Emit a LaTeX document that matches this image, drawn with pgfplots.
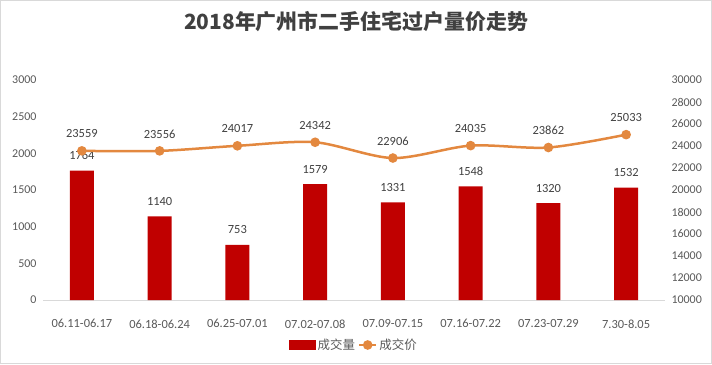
\documentclass[border=0pt]{standalone}
\usepackage{fontspec}
\setmainfont{Carlito}
\newfontfamily\cjk{Noto Sans CJK SC}
\usepackage{pgfplots}
\pgfplotsset{compat=1.18}
\definecolor{barred}{HTML}{C00000}
\definecolor{lineor}{HTML}{E3883F}
\definecolor{txt}{HTML}{404040}
\definecolor{tickc}{HTML}{595959}
\definecolor{axl}{HTML}{D9D9D9}
\pgfkeys{/pgf/number format/1000 sep={}}
\begin{document}
\begin{tikzpicture}[x=1bp,y=1bp]
\draw[axl, line width=1bp] (0.5,0.5) rectangle (711.5,363.5);
\node[font=\cjk\bfseries\fontsize{21}{24}\selectfont, text=txt] at (356,342) {2018年广州市二手住宅过户量价走势};
\begin{axis}[
  at={(43bp,64bp)}, anchor=south west, scale only axis,
  width=622bp, height=220bp,
  xmin=-0.5, xmax=7.5, ymin=0, ymax=3000,
  ytick={0,500,...,3000},
  xtick=data,
  xticklabels={06.11-06.17,06.18-06.24,06.25-07.01,07.02-07.08,07.09-07.15,07.16-07.22,07.23-07.29,7.30-8.05},
  axis x line*=bottom, axis y line*=left,
  x axis line style={axl, line width=1bp, -},
  y axis line style={draw=none},
  major tick length=0,
  scaled y ticks=false,
  /pgf/number format/assume math mode=true,
  ticklabel style={font=\fontsize{12}{14}\selectfont, text=tickc},
  xticklabel style={yshift=-16bp, font=\fontsize{12.5}{14}\selectfont},
  yticklabel style={xshift=-3bp},
  ybar, bar width=24bp,
  nodes near coords,
  every node near coord/.append style={font=\fontsize{12.5}{14}\selectfont, text=txt, anchor=center, yshift=15bp},
]
\addplot[fill=barred, draw=none] coordinates {(0,1764) (1,1140) (2,753) (3,1579) (4,1331) (5,1548) (6,1320) (7,1532)};
\end{axis}
\begin{axis}[
  at={(43bp,64bp)}, anchor=south west, scale only axis,
  width=622bp, height=220bp,
  xmin=-0.5, xmax=7.5, ymin=10000, ymax=30000,
  ytick={10000,12000,...,30000},
  axis y line*=right, hide x axis,
  y axis line style={draw=none},
  major tick length=0,
  scaled y ticks=false,
  /pgf/number format/assume math mode=true,
  ticklabel style={font=\fontsize{12}{14}\selectfont, text=tickc},
  yticklabel style={xshift=3bp},
  legend style={at={(0.5,-0.2045)}, anchor=center, draw=none, fill=none, legend columns=2,
    font=\cjk\fontsize{12.5}{14}\selectfont, text=tickc,
    /tikz/every even column/.append style={column sep=1bp}},
  legend cell align=left,
]
\addlegendimage{legend image code/.code={\fill[barred] (0bp,-4.5bp) rectangle (26bp,4.5bp);}}
\addlegendentry{成交量}
\addplot[lineor, line width=2.5bp, smooth, mark=*, mark size=3.5bp, mark options={fill=lineor, draw=lineor},
  nodes near coords,
  every node near coord/.append style={font=\fontsize{12.5}{14}\selectfont, text=txt, anchor=center, yshift=17bp}]
  coordinates {(0,23559) (1,23556) (2,24017) (3,24342) (4,22906) (5,24035) (6,23862) (7,25033)};
\addlegendentry{成交价}
\end{axis}
\end{tikzpicture}
\end{document}
